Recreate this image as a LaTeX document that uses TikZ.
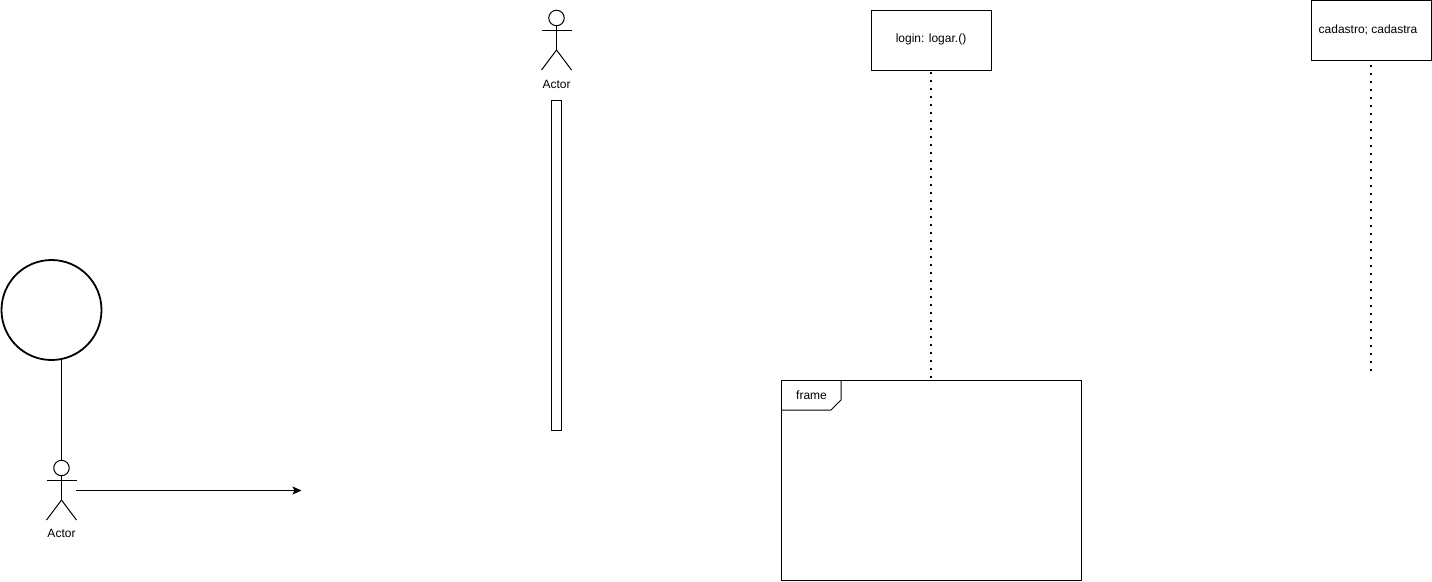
\documentclass[tikz,border=0pt]{standalone}
\usepackage{fontspec}
\setmainfont{Liberation Sans}
\usetikzlibrary{arrows.meta,calc}

\tikzset{
  line/.style={line width=1pt, black},
  head/.style={draw, line width=1pt, circle, inner sep=0pt, minimum size=15.5pt},
  label/.style={font=\fontsize{12}{14}\selectfont, text=black, inner sep=0pt},
  lifebox/.style={draw, line width=1pt, inner sep=0pt, minimum width=120pt, minimum height=60pt},
  lifeline/.style={line width=2pt, dash pattern=on 2pt off 6pt},
}

\begin{document}
\begin{tikzpicture}[x=1pt,y=-1pt]
  \useasboundingbox (0,0) rectangle (1432,581);

  % left part
  \node[draw, line width=1.8pt, circle, inner sep=0pt, minimum size=100pt] (ball) at (51.5,310) {};
  \node[head] (h1) at (61.5,468) {};
  \coordinate (ballfoot) at (61.5,359.5);
  \coordinate (n1) at ($(h1) + (0,32)$);
  \coordinate (a1l) at ($(h1) + (-15,12)$);
  \coordinate (a1r) at ($(h1) + (15,12)$);
  \coordinate (f1l) at ($(h1) + (-15,52)$);
  \coordinate (f1r) at ($(h1) + (15,52)$);
  \node[label] (t1) at (61.5,533.5) {Actor};
  \coordinate (m1) at (76,490.5);
  \coordinate (m2) at (301.5,490.5);
  \draw[line] (ballfoot) -- (h1.north);
  \draw[line] (h1.south) -- (n1);
  \draw[line] (a1l) -- (a1r);
  \draw[line] (f1l) -- (n1) -- (f1r);
  \draw[line, -{Stealth[length=9pt,width=8pt,inset=2pt]}] (m1) -- (m2);

  % middle actor
  \node[head] (h2) at (556.5,18) {};
  \coordinate (n2) at ($(h2) + (0,32)$);
  \coordinate (a2l) at ($(h2) + (-15,12)$);
  \coordinate (a2r) at ($(h2) + (15,12)$);
  \coordinate (f2l) at ($(h2) + (-15,52)$);
  \coordinate (f2r) at ($(h2) + (15,52)$);
  \node[label] (t2) at (556.5,84) {Actor};
  \draw[line] (h2.south) -- (n2);
  \draw[line] (a2l) -- (a2r);
  \draw[line] (f2l) -- (n2) -- (f2r);
  \node[draw, line width=1pt, inner sep=0pt, minimum width=10pt, minimum height=330pt] (bar) at (556.5,265.5) {};

  % lifelines
  \node[lifebox] (login) at (931.5,40.5) {};
  \node[lifebox] (cadastro) at (1371.5,30.5) {};
  \node[label] (t4) at (931,39.5) {login: logar.()};
  \node[label] (t5) at (1368,29.5) {cadastro; cadastra};
  \coordinate (s1) at ($(login.south) + (-0.2,0.5)$);
  \coordinate (s2) at ($(cadastro.south) + (-0.2,3.5)$);
  \coordinate (e1) at (931.3,378);
  \coordinate (e2) at (1371.3,372);
  \draw[lifeline] (s1) -- (e1);
  \draw[lifeline] (s2) -- (e2);

  % frame
  \node[draw, line width=1pt, inner sep=0pt, minimum width=300pt, minimum height=200pt] (frm) at (931.5,480.5) {};
  \node[label] (t3) at (811.5,395) {frame};
  \coordinate (c1) at ($(frm.north west) + (60,0)$);
  \coordinate (c2) at ($(frm.north west) + (60,20)$);
  \coordinate (c3) at ($(frm.north west) + (50,30)$);
  \coordinate (c4) at ($(frm.north west) + (0,30)$);
  \draw[line] (c1) -- (c2) -- (c3) -- (c4);
\end{tikzpicture}
\end{document}
